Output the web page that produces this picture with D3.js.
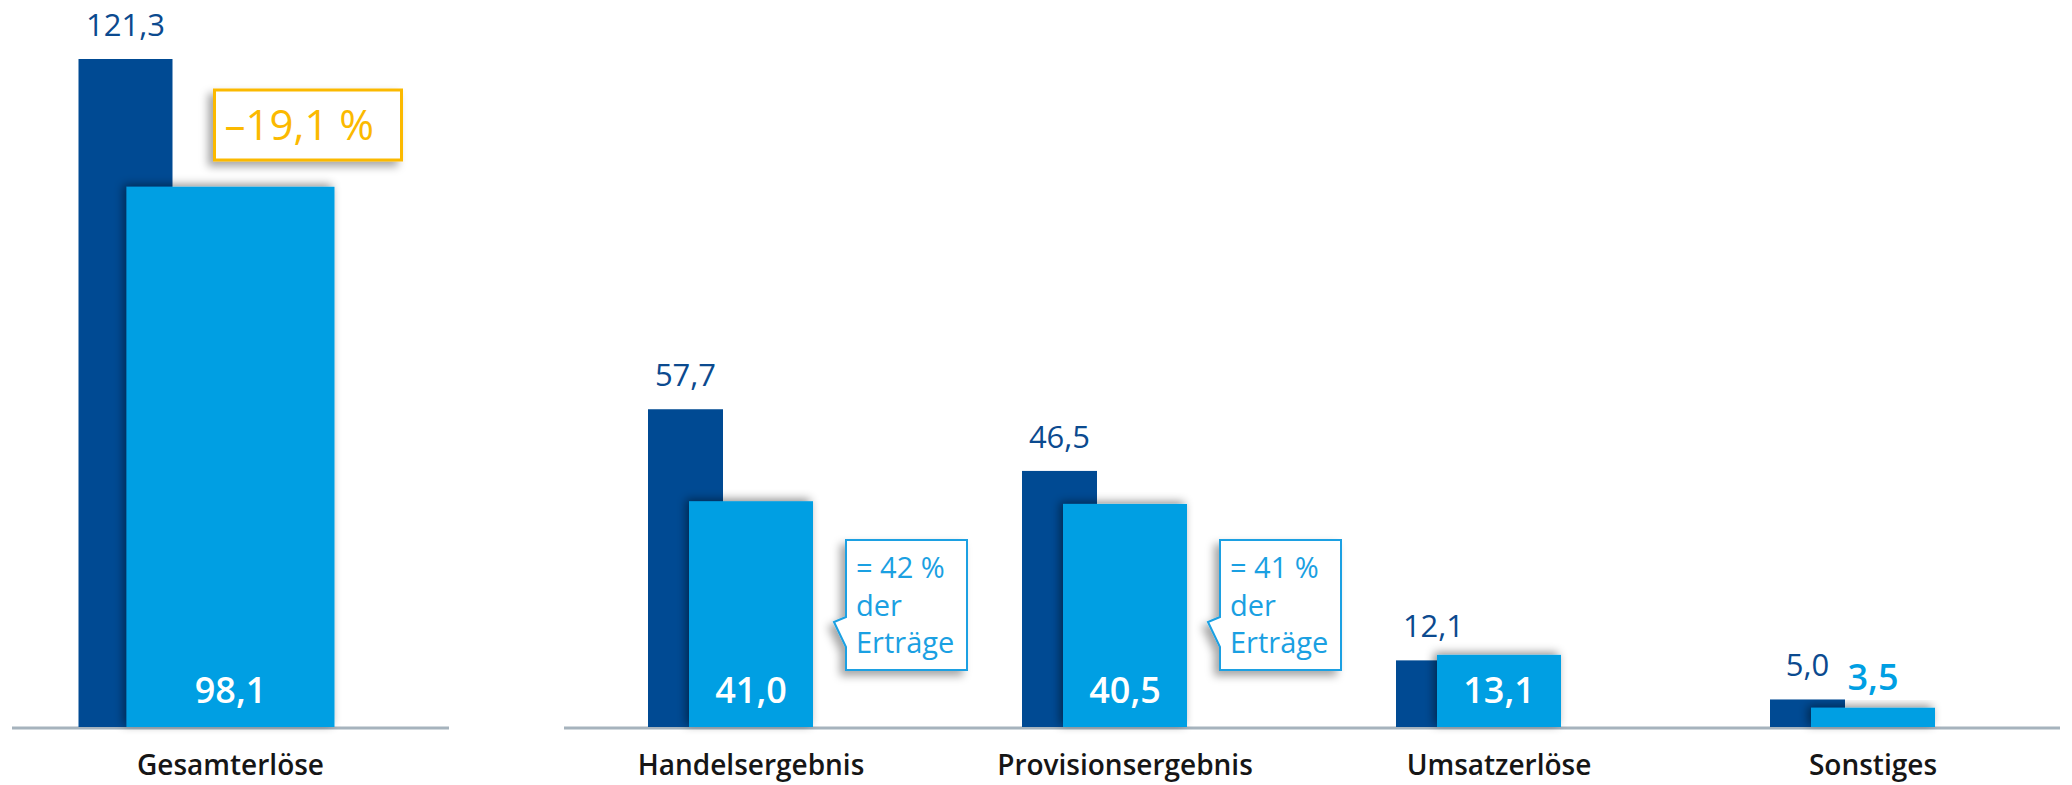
<!DOCTYPE html>
<html><head><meta charset="utf-8">
<script src="https://cdn.jsdelivr.net/npm/d3@7"></script>
<style>
html,body{margin:0;padding:0;background:#fff;}
svg{display:block;font-family:"Open Sans",sans-serif;}
</style></head><body>
<svg id="chart" width="2072" height="785"></svg>
<script>
// ---- data ----
const categories = ["Gesamterlöse", "Handelsergebnis", "Provisionsergebnis", "Umsatzerlöse", "Sonstiges"];
const valuesPrev = [121.3, 57.7, 46.5, 12.1, 5.0];
const valuesCurr = [98.1, 41.0, 40.5, 13.1, 3.5];
const changeLabel = "–19,1 %";
const shareNotes = [null, ["= 42 %", "der", "Erträge"], ["= 41 %", "der", "Erträge"], null, null];

// ---- style / layout ----
const C = {navy:"#004a93", blue:"#009fe3", label:"#0b4a8f", note:"#1aa0e2", yellow:"#fbb900", axis:"#a6b3bd", text:"#161616"};
const fmt = d3.formatLocale({decimal:",", thousands:".", grouping:[3], currency:["","€"]}).format(".1f");

const svg = d3.select("#chart");
const defs = svg.append("defs");
const f1 = defs.append("filter").attr("id","barShadow").attr("x","-40%").attr("y","-40%").attr("width","180%").attr("height","180%");
f1.append("feDropShadow").attr("dx",-3).attr("dy",-2).attr("stdDeviation",5).attr("flood-color","#000").attr("flood-opacity",0.45);
const f2 = defs.append("filter").attr("id","boxShadow").attr("x","-40%").attr("y","-40%").attr("width","180%").attr("height","180%");
f2.append("feDropShadow").attr("dx",-5).attr("dy",5).attr("stdDeviation",4).attr("flood-color","#000").attr("flood-opacity",0.35);

const y = d3.scaleLinear().domain([0, 130]).range([727, 727 - 130 * 5.507]);
const xMain = d3.scaleBand().domain(categories.slice(0,1)).range([12, 449]);
const xRest = d3.scaleBand().domain(categories.slice(1)).range([564, 2060]);

const groups = categories.map((c, i) => {
  const main = i === 0;
  const sc = main ? xMain : xRest;
  const cx = sc(c) + sc.bandwidth() / 2;
  const lw = main ? 208 : 124, dw = main ? 94 : 75, off = main ? 48 : 41;
  const lx = cx - lw / 2;
  return {c, i, cx, lx, lw, dx: lx - off, dw, prev: valuesPrev[i], curr: valuesCurr[i], note: shareNotes[i]};
});

// axis lines
[xMain, xRest].forEach(sc => {
  svg.append("line").attr("x1", sc.range()[0]).attr("x2", sc.range()[1])
    .attr("y1", y(0) + 1).attr("y2", y(0) + 1).attr("stroke", C.axis).attr("stroke-width", 3);
});

const g = svg.selectAll("g.grp").data(groups).join("g").attr("class","grp");

g.append("rect").attr("x", d => d.dx).attr("width", d => d.dw)
  .attr("y", d => y(d.prev)).attr("height", d => y(0) - y(d.prev)).attr("fill", C.navy);
g.append("rect").attr("x", d => d.lx).attr("width", d => d.lw)
  .attr("y", d => y(d.curr)).attr("height", d => y(0) - y(d.curr)).attr("fill", C.blue)
  .attr("filter","url(#barShadow)");

// previous-year labels
g.append("text").attr("x", d => d.dx + d.dw / 2).attr("y", d => y(d.prev) - 23)
  .attr("text-anchor","middle").attr("font-size", 31).attr("fill", C.label).text(d => fmt(d.prev));

// current-year labels
g.append("text")
  .attr("x", d => d.lx + d.lw / 2)
  .attr("y", d => (y(0) - y(d.curr) > 50) ? y(0) - 24 : y(d.curr) - 18)
  .attr("text-anchor","middle").attr("font-size", 36).attr("font-weight", 600)
  .attr("fill", d => (y(0) - y(d.curr) > 50) ? "#fff" : C.blue).text(d => fmt(d.curr));

// category labels
g.append("text").attr("x", d => d.cx).attr("y", 775).attr("text-anchor","middle")
  .attr("font-size", 28).attr("font-weight", 600).attr("fill", C.text).text(d => d.c);

// share callouts
const bw = 121, bh = 130, by = 540;
const notes = g.filter(d => d.note).append("g").attr("transform", d => `translate(${d.cx + 95},${by})`);
notes.append("path").attr("d", `M0,0 H${bw} V${bh} H0 V107 L-12,82 L0,77 Z`)
  .attr("fill","#fff").attr("stroke", C.note).attr("stroke-width", 2).attr("filter","url(#boxShadow)");
notes.each(function(d){
  d3.select(this).selectAll("text").data(d.note).join("text")
    .attr("x", 10).attr("y", (t, k) => 38 + k * 37.5)
    .attr("font-size", 29).attr("font-weight", 400).attr("fill", C.note).text(t => t);
});

// change box
const g0 = groups[0];
const cb = svg.append("g").attr("transform", `translate(${g0.lx + g0.lw + 67 - 187},90)`);
cb.append("rect").attr("width", 187).attr("height", 70).attr("fill","#fff")
  .attr("stroke", C.yellow).attr("stroke-width", 3).attr("filter","url(#boxShadow)");
cb.append("text").attr("x", 10).attr("y", 50).attr("font-size", 42).attr("font-weight", 400)
  .attr("fill", C.yellow).text(changeLabel);
</script>
</body></html>
